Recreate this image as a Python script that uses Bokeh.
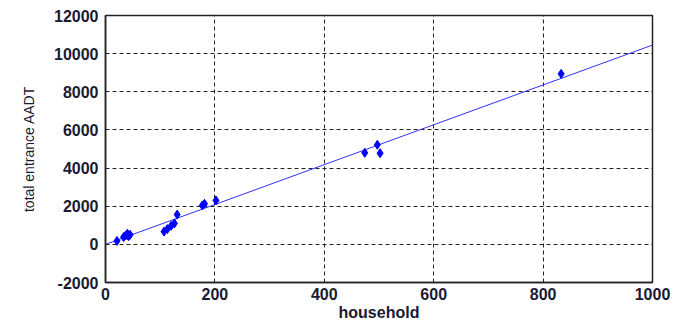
from bokeh.plotting import figure
from bokeh.models import FixedTicker, ColumnDataSource, PrintfTickFormatter
from bokeh.embed import file_html
from bokeh.resources import INLINE

# data
household = [21, 33, 37, 40, 42, 45, 107, 113, 120, 126, 131, 177, 181, 202, 474, 497, 502, 833]
aadt = [180, 380, 470, 560, 430, 500, 670, 800, 970, 1100, 1560, 2040, 2130, 2300, 4800, 5220, 4780, 8940]
fit_x = [0, 1000]
fit_y = [0, 10450]
x_ticks = [0, 200, 400, 600, 800, 1000]
y_ticks = [-2000, 0, 2000, 4000, 6000, 8000, 10000, 12000]

p = figure(width=685, height=323, output_backend="svg", toolbar_location=None,
           x_range=(0, 1000), y_range=(-2000, 12000),
           min_border_left=105, min_border_top=15, min_border_right=33, min_border_bottom=41)

p.line(fit_x, fit_y, line_color="#3030ff", line_width=1)
src = ColumnDataSource(dict(x=household, y=aadt))
p.scatter("x", "y", source=src, marker="diamond", size=9, fill_color="#0000ff", line_color="#0000ff")

p.xaxis.ticker = FixedTicker(ticks=x_ticks)
p.yaxis.ticker = FixedTicker(ticks=y_ticks)
p.xaxis.formatter = PrintfTickFormatter(format="%d")
p.yaxis.formatter = PrintfTickFormatter(format="%d")
p.xaxis.axis_label = "household"
p.yaxis.axis_label = "total entrance AADT"

for ax in (p.xaxis, p.yaxis):
    ax.major_label_text_font = "Liberation Sans"
    ax.major_label_text_font_style = "bold"
    ax.major_label_text_font_size = "16px"
    ax.major_label_text_color = "#1a1a33"
    ax.axis_label_text_font = "Liberation Sans"
    ax.axis_label_text_color = "#1a1a33"
    ax.major_tick_in = 0
    ax.major_tick_out = 0
    ax.minor_tick_in = 0
    ax.minor_tick_out = 0
    ax.axis_line_color = "#222222"
    ax.axis_line_width = 1.5

p.xaxis.axis_label_text_font_style = "bold"
p.xaxis.axis_label_text_font_size = "16px"
p.xaxis.major_label_standoff = 5
p.xaxis.axis_label_standoff = 1
p.yaxis.axis_label_text_font_style = "normal"
p.yaxis.axis_label_text_font_size = "14px"
p.yaxis.major_label_standoff = 7
p.yaxis.axis_label_standoff = 14

p.grid.grid_line_color = "#222222"
p.grid.grid_line_dash = "4 3"
p.grid.grid_line_width = 1

p.outline_line_color = "#222222"
p.outline_line_width = 1.5
p.background_fill_color = "white"
p.border_fill_color = "white"

open("out.html", "w").write(file_html(p, INLINE))
